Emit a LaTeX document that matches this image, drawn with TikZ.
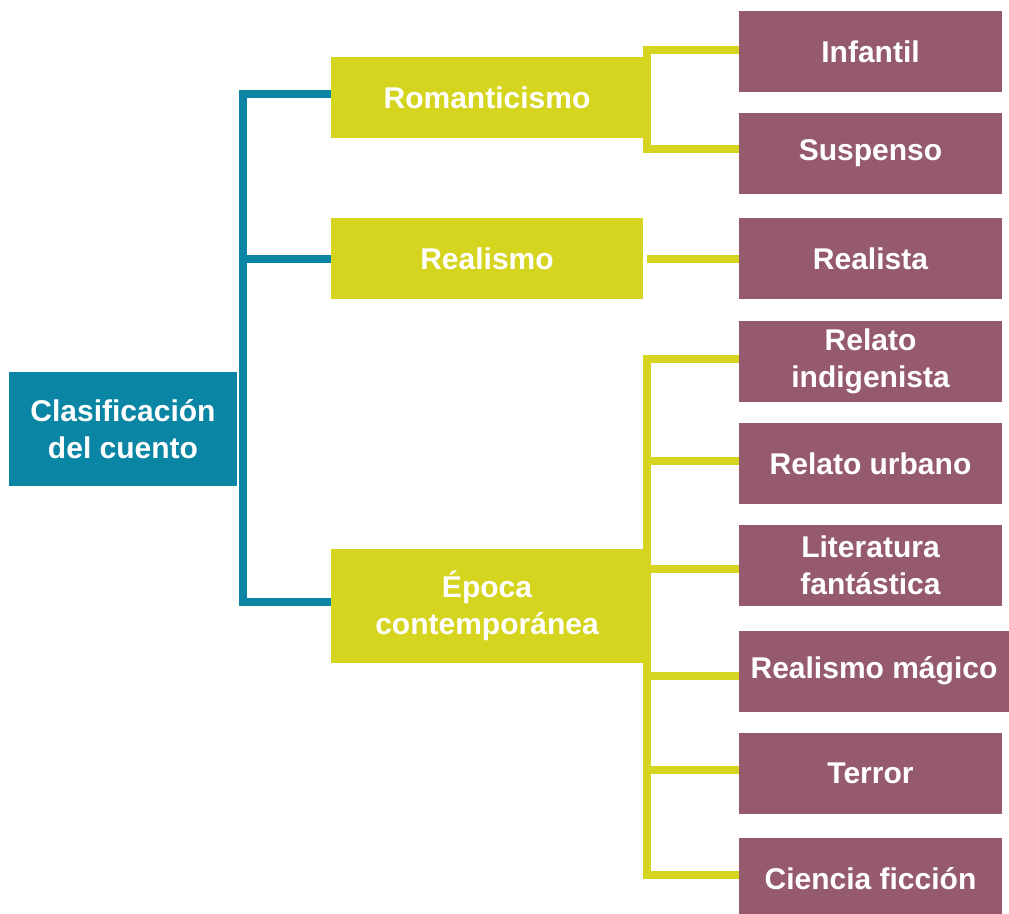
\documentclass[tikz,border=0pt]{standalone}
\usepackage{fontspec}
\setmainfont{Liberation Sans}
\usetikzlibrary{calc}
\definecolor{cteal}{RGB}{10,134,164}
\definecolor{cyel}{RGB}{213,212,31}
\definecolor{cpur}{RGB}{149,90,109}
\tikzset{
  box/.style={rectangle, inner sep=0pt, align=center, text=white,
    font=\fontsize{30}{37.5}\selectfont\bfseries},
  rootbox/.style={box, fill=cteal, minimum width=228pt, minimum height=114pt},
  midbox/.style={box, fill=cyel, minimum width=312pt, minimum height=81pt},
  leafbox/.style={box, fill=cpur, minimum width=263pt, minimum height=81pt},
  tline/.style={draw=cteal, line width=8pt, line join=miter},
  yline/.style={draw=cyel, line width=8pt, line join=miter},
}
\begin{document}
\begin{tikzpicture}[x=1pt,y=-1pt]
\useasboundingbox (0,0) rectangle (1009,913);
% root
\node[rootbox] (root) at (123,429) {Clasificación\\del cuento};
% middle
\node[midbox] (rom) at (487,97.5) {Romanticismo};
\node[midbox] (real) at (487,258.5) {Realismo};
\node[midbox, minimum height=114pt] (epo) at (487,606) {Época\\contemporánea};
% leaves
\node[leafbox] (inf) at (870.5,51.5) {Infantil};
\node[leafbox] (sus) at (870.5,153) {Suspenso};
\node[leafbox] (rea) at (870.5,258.5) {Realista};
\node[leafbox] (ind) at (870.5,361.5) {Relato\\indigenista};
\node[leafbox] (urb) at (870.5,463.5) {Relato urbano};
\node[leafbox] (lit) at (870.5,565.5) {Literatura\\fantástica};
\node[leafbox, minimum width=270pt] (mag) at (874,671) {Realismo mágico};
\node[leafbox] (ter) at (870.5,773.5) {Terror};
\node[leafbox] (cie) at (870.5,878.5) {Ciencia ficción};
% junctions
\coordinate (tj) at (243,429);
\coordinate (rj) at (647,97.5);
\coordinate (ej) at (647,606);
% teal connectors
\draw[tline] ($(rom.west)+(0,-4)$) -| (tj) |- ($(epo.west)+(0,-4)$);
\draw[tline] (real.west) -- (real.west -| tj);
% yellow connectors
\draw[yline] ($(inf.west)+(0,-1.5)$) -| (rj) |- ($(sus.west)+(0,-4)$);
\draw[yline] (rea.west) -- ($(real.east)+(4,0)$);
\draw[yline] ($(ind.west)+(0,-3)$) -| (ej) |- ($(cie.west)+(0,-3.5)$);
\draw[yline] ($(urb.west)+(0,-3)$) -- ($(urb.west -| ej)+(0,-3)$);
\draw[yline] ($(lit.west)+(0,3.5)$) -- ($(lit.west -| ej)+(0,3.5)$);
\draw[yline] ($(mag.west)+(0,5)$) -- ($(mag.west -| ej)+(0,5)$);
\draw[yline] ($(ter.west)+(0,-3.5)$) -- ($(ter.west -| ej)+(0,-3.5)$);
\end{tikzpicture}
\end{document}
